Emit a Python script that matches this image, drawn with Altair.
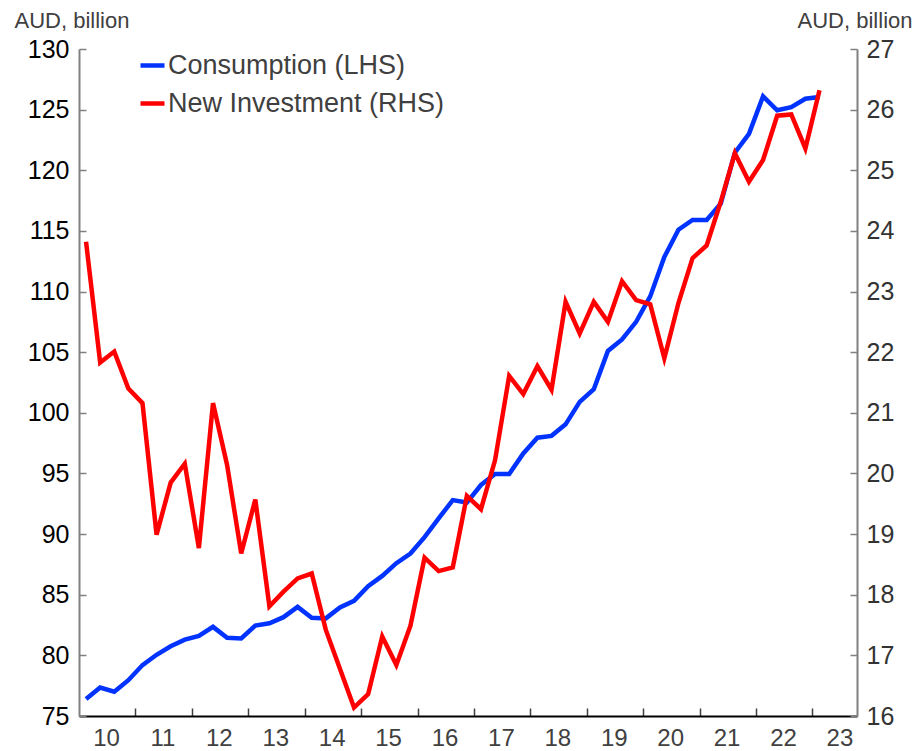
import altair as alt
import pandas as pd

FONT = "Liberation Sans, Arial, Helvetica, sans-serif"

# ---- data (quarterly, 2010Q1 .. 2023Q1) ----
quarters = [f"{y}Q{q}" for y in range(2010, 2024) for q in range(1, 5)][:53]

consumption = [
    76.4, 77.35, 77.0, 77.95, 79.2, 80.05, 80.75, 81.3, 81.6, 82.35,
    81.45, 81.4, 82.45, 82.65, 83.15, 84.0, 83.1, 83.05, 83.95, 84.5,
    85.7, 86.55, 87.6, 88.4, 89.75, 91.3, 92.8, 92.6, 94.05, 94.95,
    94.95, 96.65, 97.95, 98.1, 99.05, 100.9, 101.95, 105.1, 106.05, 107.5,
    109.6, 112.85, 115.1, 115.9, 115.9, 117.25, 121.45, 123.0, 126.1, 124.95,
    125.2, 125.9, 126.05,
]

investment = [
    23.82, 21.83, 22.01, 21.40, 21.16, 18.99, 19.85, 20.16, 18.77, 21.16,
    20.14, 18.68, 19.57, 17.81, 18.05, 18.27, 18.35, 17.42, 16.78, 16.14,
    16.36, 17.31, 16.84, 17.49, 18.61, 18.39, 18.45, 19.63, 19.41, 20.22,
    21.61, 21.31, 21.77, 21.38, 22.83, 22.31, 22.83, 22.50, 23.17, 22.86,
    22.79, 21.90, 22.81, 23.55, 23.76, 24.48, 25.28, 24.81, 25.17, 25.90,
    25.92, 25.36, 26.32,
]

series_names = ["Consumption (LHS)", "New Investment (RHS)"]
series_colors = ["#0033ff", "#ff0000"]

left_ticks = list(range(75, 131, 5))
right_ticks = list(range(16, 28))
year_ticks = list(range(2010, 2024))
year_labels = ["10", "11", "12", "13", "14", "15", "16", "17", "18", "19", "20", "21", "22", "23"]
axis_title = "AUD, billion"


def qpos(label):
    y = int(label[:4])
    q = int(label[-1])
    return y + (q - 1) / 4 + 0.125


t = [qpos(q) for q in quarters]
df_c = pd.DataFrame({"t": t, "v": consumption, "s": series_names[0]})
df_i = pd.DataFrame({"t": t, "v": investment, "s": series_names[1]})

W, H = 778, 667
x_scale = alt.Scale(domain=[2010, 2023.79], nice=False, zero=False)
yl_scale = alt.Scale(domain=[75, 130], nice=False, zero=False)
yr_scale = alt.Scale(domain=[16, 27], nice=False, zero=False)
color_scale = alt.Scale(domain=series_names, range=series_colors)

label_expr = "[" + ",".join(f"'{s}'" for s in year_labels) + "][datum.value - %d]" % year_ticks[0]

legend = alt.Legend(
    orient="none", legendX=59, legendY=2, title=None,
    symbolType="stroke", symbolSize=576, symbolStrokeWidth=4.5,
    labelFontSize=27, labelFont=FONT, labelColor="#404040",
    labelOffset=1, rowPadding=10, padding=0, labelLimit=500,
)

x_label_axis = alt.Axis(
    orient="bottom", values=year_ticks, labelExpr=label_expr, labelOffset=27,
    tickSize=0, domainColor="#000000", domainWidth=2, labelFontSize=24,
    labelFont=FONT, labelColor="#404040", labelPadding=10, title=None,
    grid=False, labelFlush=False, labelOverlap=False,
)
x_tick_axis = alt.Axis(
    orient="bottom", values=year_ticks[1:], offset=-8, tickSize=8, labels=False,
    domain=False, tickColor="#404040", tickWidth=1.5, title=None, grid=False,
)

yl_axis = alt.Axis(
    orient="left", values=left_ticks, tickSize=0, labelPadding=10,
    labelFontSize=25, labelFont=FONT, labelColor="#000000",
    domainColor="#808080", domainWidth=2, grid=False,
    title=axis_title, titleAngle=0, titleAlign="left", titleBaseline="alphabetic",
    titleX=-65, titleY=-22, titleFontSize=22, titleFont=FONT,
    titleFontWeight="normal", titleColor="#404040",
)
yl_tick_axis = alt.Axis(
    orient="left", values=left_ticks, offset=-7, tickSize=7, labels=False,
    domain=False, tickColor="#808080", tickWidth=1.5, title=None, grid=False,
)
yr_axis = alt.Axis(
    orient="right", values=right_ticks, tickSize=0, labelPadding=9,
    labelFontSize=25, labelFont=FONT, labelColor="#333333",
    domainColor="#808080", domainWidth=2, grid=False,
    title=axis_title, titleAngle=0, titleAlign="right", titleBaseline="alphabetic",
    titleX=55, titleY=-22, titleFontSize=22, titleFont=FONT,
    titleFontWeight="normal", titleColor="#404040",
)
yr_tick_axis = alt.Axis(
    orient="right", values=right_ticks, offset=-7, tickSize=7, labels=False,
    domain=False, tickColor="#808080", tickWidth=1.5, title=None, grid=False,
)

blue = alt.Chart(df_c).mark_line(strokeWidth=4.5).encode(
    x=alt.X("t:Q", scale=x_scale, axis=x_label_axis),
    y=alt.Y("v:Q", scale=yl_scale, axis=yl_axis),
    color=alt.Color("s:N", scale=color_scale, legend=legend),
)
blue_ticks = alt.Chart(df_c).mark_line(opacity=0).encode(
    x=alt.X("t:Q", scale=x_scale, axis=x_tick_axis),
    y=alt.Y("v:Q", scale=yl_scale, axis=yl_tick_axis),
)
red = alt.Chart(df_i).mark_line(strokeWidth=4.5).encode(
    x=alt.X("t:Q", scale=x_scale, axis=None),
    y=alt.Y("v:Q", scale=yr_scale, axis=yr_axis),
    color=alt.Color("s:N", scale=color_scale, legend=legend),
)
red_ticks = alt.Chart(df_i).mark_line(opacity=0).encode(
    x=alt.X("t:Q", scale=x_scale, axis=None),
    y=alt.Y("v:Q", scale=yr_scale, axis=yr_tick_axis),
)

chart = (
    alt.layer(blue_ticks, red_ticks, blue, red)
    .resolve_scale(y="independent")
    .resolve_axis(x="independent", y="independent")
    .properties(
        width=W, height=H,
        autosize=alt.AutoSizeParams(type="none"),
        padding={"left": 71, "top": 41, "right": 56, "bottom": 35},
        background="white",
    )
    .configure_view(stroke=None)
)

chart.save("out.html", embed_options={"renderer": "svg", "actions": False})
